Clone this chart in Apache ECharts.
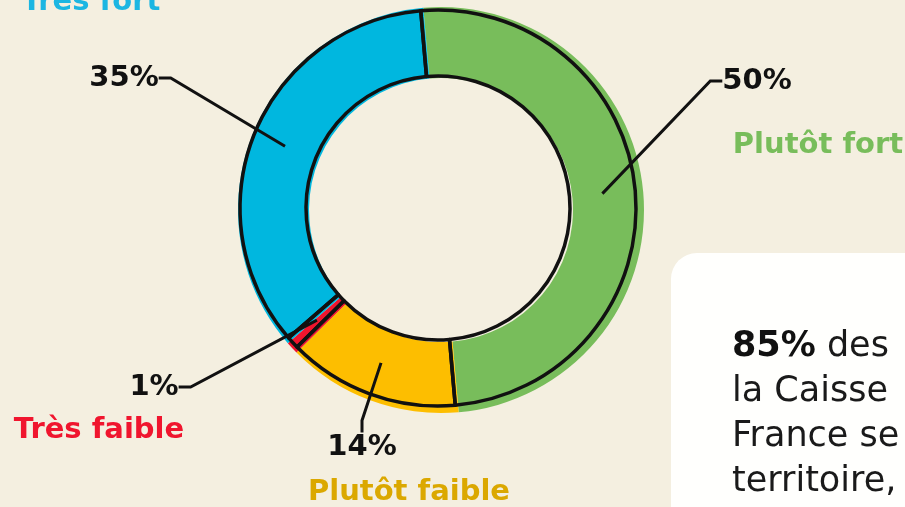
<!doctype html>
<html>
    <head>
        <meta charset="utf-8">
        <title>Donut</title>
        <style>
            html, body { margin: 0; padding: 0; background: #f4efe0; }
            #main { width: 905px; height: 507px; }
        </style>
    </head>
    <body>
        <div id="main"></div>
        <script src="https://cdn.jsdelivr.net/npm/echarts@6/dist/echarts.min.js"></script>
        <script>

            var myChart = echarts.init(document.getElementById('main'));

            // categories, clockwise from the top
            var names = ['Plutôt fort', 'Plutôt faible', 'Très faible', 'Très fort'];
            var values = [50, 14, 1, 35];
            var colors = ['#78bd5b', '#fdbe00', '#f0152e', '#00b7df'];
            var nameColors = ['#78bd5b', '#dba800', '#f0152e', '#1cb6e2'];

            // where the percent labels and the names sit
            var pctPos = [[757, 81], [362, 447], [154, 387], [124, 78]];
            var namePos = [[818, 145], [409, 492], [99, 430], [91, 2]];

            var FONT = '"DejaVu Sans", sans-serif';

            var pieData = values.map(function (v, i) {
                return { name: names[i], value: v, itemStyle: { color: colors[i] } };
            });

            var nameTexts = names.map(function (n, i) {
                return {
                    type: 'text',
                    x: namePos[i][0],
                    y: namePos[i][1],
                    style: {
                        text: n,
                        fill: nameColors[i],
                        font: 'bold 29px ' + FONT,
                        align: 'center',
                        verticalAlign: 'middle'
                    },
                    z: 10
                };
            });

            myChart.setOption(option = {
                backgroundColor: '#f4efe0',
                animation: false,
                series: [{
                    // coloured fill, drawn a little off the outline
                    type: 'pie',
                    center: [441, 210],
                    radius: [132, 203],
                    startAngle: 95,
                    clockwise: true,
                    silent: true,
                    label: { show: false },
                    labelLine: { show: false },
                    itemStyle: { borderWidth: 0 },
                    data: pieData,
                    z: 1
                }, {
                    // black hand-drawn outline
                    type: 'pie',
                    center: [438, 208],
                    radius: [132, 198],
                    startAngle: 95,
                    clockwise: true,
                    silent: true,
                    label: { show: false },
                    labelLine: { show: false },
                    itemStyle: { color: 'rgba(0,0,0,0)', borderColor: '#111', borderWidth: 3.5 },
                    data: values.map(function (v, i) { return { name: names[i], value: v }; }),
                    z: 2
                }, {
                    // invisible ring carrying the percent labels
                    type: 'pie',
                    center: [438, 208],
                    radius: [0, 165],
                    startAngle: 95,
                    clockwise: true,
                    silent: true,
                    avoidLabelOverlap: false,
                    itemStyle: { color: 'rgba(0,0,0,0)', borderWidth: 0 },
                    label: {
                        show: true,
                        position: 'outside',
                        formatter: function (p) { return p.value + '%'; },
                        color: '#111',
                        fontFamily: FONT,
                        fontWeight: 'bold',
                        fontSize: 29,
                        padding: [4, 7]
                    },
                    labelLine: {
                        show: true,
                        length: 20,
                        length2: 12,
                        lineStyle: { color: '#111', width: 3 }
                    },
                    labelLayout: function (p) {
                        var pos = pctPos[p.dataIndex];
                        return { x: pos[0], y: pos[1], align: 'center', verticalAlign: 'middle' };
                    },
                    data: values.map(function (v, i) { return { name: names[i], value: v }; }),
                    z: 3
                }],
                graphic: nameTexts.concat([{
                    type: 'rect',
                    shape: { x: 671, y: 253, width: 260, height: 280, r: [26, 0, 0, 0] },
                    style: { fill: '#fffffd' },
                    z: 5
                }, {
                    type: 'text',
                    x: 732,
                    y: 324,
                    style: {
                        text: '{b|85%} des\nla Caisse\nFrance se\nterritoire, u',
                        font: '35px ' + FONT,
                        fill: '#1a1a1a',
                        lineHeight: 45,
                        verticalAlign: 'top',
                        rich: {
                            b: { font: 'bold 35px ' + FONT, fill: '#111', lineHeight: 45 }
                        }
                    },
                    z: 6
                }])
            });

        </script>
    </body>
</html>
